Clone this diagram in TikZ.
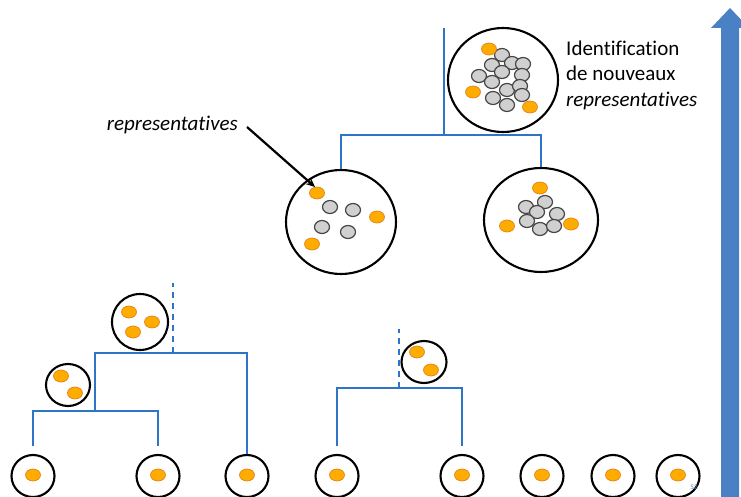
\documentclass[tikz,border=0pt]{standalone}
\usepackage{fontspec}
\setmainfont[Ligatures={NoCommon,NoContextual}]{Carlito}
\usetikzlibrary{shapes.geometric,arrows.meta}
\definecolor{treeblue}{RGB}{46,117,199}
\definecolor{bigblue}{RGB}{74,128,196}
\definecolor{orng}{RGB}{255,172,0}
\definecolor{orngedge}{RGB}{226,128,20}
\definecolor{grayfill}{RGB}{208,208,208}
\definecolor{grayedge}{RGB}{70,70,70}
\tikzset{
  bubble/.style={draw=black, line width=2.1pt, ellipse, inner sep=0pt},
  leaf/.style={bubble, minimum width=43pt, minimum height=42pt},
  tree/.style={draw=treeblue, line width=2.6pt},
  cut/.style={tree, dash pattern=on 6pt off 5pt},
  rep/.style={fill=orng, draw=orngedge, line width=0.7pt},
  pt/.style={fill=grayfill, draw=grayedge, line width=1.2pt},
  label/.style={font=\fontsize{21}{25.5}\selectfont, inner sep=0pt, align=left}
}
% orange representative and grey point, drawn at a given centre
\newcommand{\repdot}[2]{\draw[rep] (#1,#2) ellipse [x radius=7.5pt, y radius=6pt];}
\newcommand{\ptdot}[2]{\draw[pt] (#1,#2) ellipse [x radius=7.5pt, y radius=6.5pt];}
\begin{document}
\begin{tikzpicture}[x=1pt,y=-1pt]
\useasboundingbox (0,0) rectangle (741,497);

% big upward arrow on the right
\fill[bigblue] (721,499) -- (721,28) -- (711,28) -- (730,8) -- (749,28) -- (739,28) -- (739,499) -- cycle;

% leaves
\node[leaf] (L1) at (33,476) {};
\node[leaf] (L2) at (158,476) {};
\node[leaf] (L3) at (247,476) {};
\node[leaf] (L4) at (337,476) {};
\node[leaf] (L5) at (462,476) {};
\node[leaf] (L6) at (542,476) {};
\node[leaf] (L7) at (613,476) {};
\node[leaf] (L8) at (678,476) {};
\foreach \x in {33,158,247,337,462,542,613,678} {\repdot{\x}{475}}

% left sub-tree
\coordinate (j1) at (95,411);
\coordinate (j2) at (95,353);
\coordinate (d1) at (173,353);
\coordinate (d1top) at (173,283);
\draw[tree] ([yshift=8pt]L1.north) |- (j1) -| ([yshift=8pt]L2.north);
\draw[tree] (j1) -- (j2) -| (L3.north);
\draw[cut] (d1) -- (d1top);

% middle sub-tree
\coordinate (k1) at (399,388);
\coordinate (k1top) at (399,329);
\draw[tree] ([yshift=8pt]L4.north) |- (k1) -| ([yshift=8pt]L5.north);
\draw[cut] (k1) -- (k1top);

% small merged clusters
\node[bubble, minimum width=44pt, minimum height=42pt, fill=white] (sA) at (68,385) {};
\repdot{61}{376}\repdot{75}{393}
\node[bubble, minimum width=56pt, minimum height=56pt, fill=white] (sB) at (140,322) {};
\repdot{129}{312}\repdot{152}{322}\repdot{133}{332}
\node[bubble, minimum width=45pt, minimum height=42pt, fill=white] (sC) at (424,362) {};
\repdot{417}{352}\repdot{431}{370}

% upper tree
\coordinate (troot) at (444,28);
\coordinate (tj) at (444,135);
\node[bubble, minimum width=110pt, minimum height=104pt] (mL) at (341,222) {};
\node[bubble, minimum width=114pt, minimum height=104pt] (mR) at (541,220) {};
\draw[tree] (troot) -- (tj);
\draw[tree] (mL.north) |- (tj) -| (mR.north);

% left middle cluster
\ptdot{330}{207}\ptdot{353}{210}\ptdot{322}{227}\ptdot{348}{232}
\repdot{317}{193}\repdot{377}{217}\repdot{312}{244}

% right middle cluster
\ptdot{526}{207}\ptdot{545}{202}\ptdot{537}{212}\ptdot{557}{214}
\ptdot{527}{221}\ptdot{540}{229}\ptdot{554}{226}
\repdot{540}{188}\repdot{507}{226}\repdot{571}{224}

% top cluster
\node[bubble, minimum width=110pt, minimum height=104pt] (top) at (503,80) {};
\ptdot{502}{55}\ptdot{492}{65}\ptdot{512}{63}\ptdot{523}{64}
\ptdot{502}{72}\ptdot{522}{75}\ptdot{479}{76}\ptdot{492}{82}
\ptdot{507}{90}\ptdot{520}{86}\ptdot{522}{95}\ptdot{493}{98}
\ptdot{507}{105}
\repdot{489}{49}\repdot{473}{92}\repdot{530}{107}

% texts
\node[label, anchor=west] (idtext) at (566,75) {Identification\\de nouveaux\\\textit{representatives}};
\node[label, anchor=east] (reptext) at (238,125) {\textit{representatives}};
\coordinate (tipA) at (315,187);
\draw[line width=2.2pt, -{Stealth[length=9pt,width=8pt]}] ([xshift=9pt,yshift=-2pt]reptext.east) -- (tipA);

% slide number
\node[font=\fontsize{7}{8}\selectfont, text=bigblue, inner sep=0pt] (pg) at (694,487) {52};
\end{tikzpicture}
\end{document}
